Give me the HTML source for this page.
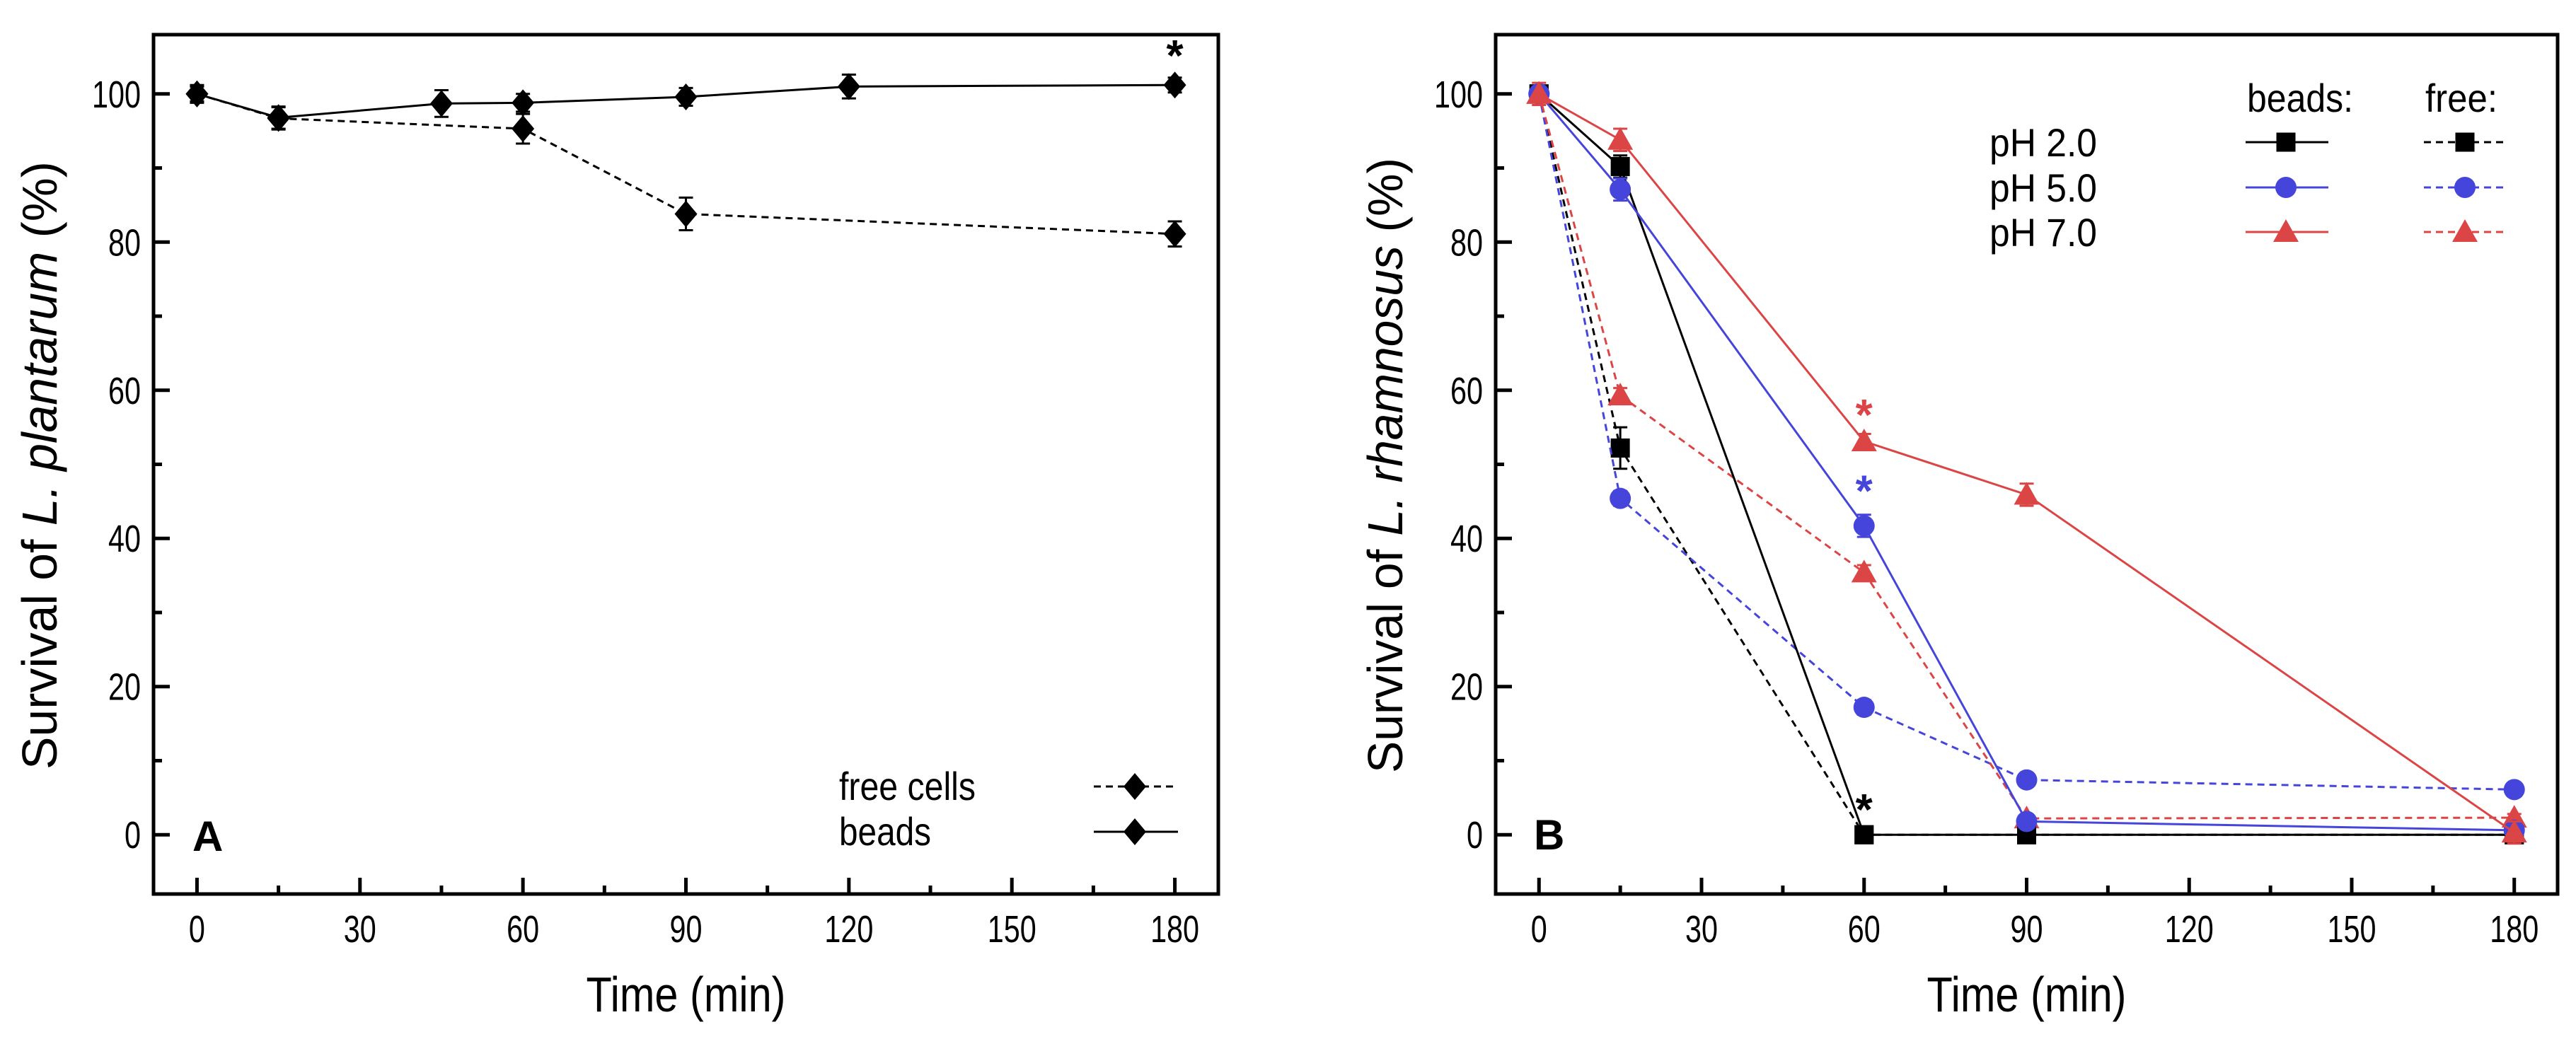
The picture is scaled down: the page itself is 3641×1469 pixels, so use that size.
<!DOCTYPE html>
<html><head><meta charset="utf-8"><style>
html,body{margin:0;padding:0;background:#fff}
svg{display:block}
text{font-family:"Liberation Sans",Arial,sans-serif;fill:#000}
</style></head><body>
<svg id="chart" width="3641" height="1469" viewBox="0 0 3641 1469" xmlns="http://www.w3.org/2000/svg"></svg>
<script>
const timesA = [0, 15, 45, 60, 90, 120, 180];
const beadsA = [100, 96.8, 98.7, 98.8, 99.6, 101, 101.2];
const beadsAErr = [1.2, 1.5, 1.8, 1.2, 1.2, 1.6, 1.0];
const timesAFree = [0, 15, 60, 90, 180];
const freeA = [100, 96.7, 95.3, 83.8, 81.1];
const freeAErr = [1.0, 1.5, 2.0, 2.2, 1.7];
const timesB = [0, 15, 60, 90, 180];
const beadsPH2 = [100, 90.2, 0, 0, 0];
const freePH2 = [100, 52.2, 0, 0, 0];
const beadsPH5 = [100, 87.1, 41.7, 1.8, 0.6];
const freePH5 = [100, 45.4, 17.2, 7.4, 6.1];
const beadsPH7 = [100, 93.8, 53.1, 45.9, 0.3];
const freePH7 = [100, 59.3, 35.4, 2.2, 2.3];
const errBeadsPH2 = [1, 1.5, 0.5, 0.5, 0.5];
const errFreePH2 = [1, 2.8, 0.5, 0.5, 0.5];
const errBeadsPH5 = [1, 1.5, 1.5, 0.5, 0.5];
const errFreePH5 = [1, 1.0, 1.0, 0.8, 0.8];
const errBeadsPH7 = [1.5, 1.5, 1.0, 1.5, 1.5];
const errFreePH7 = [1, 1.0, 1.0, 0.5, 0.5];
const xTicks = [0, 30, 60, 90, 120, 150, 180];
const yTicks = [0, 20, 40, 60, 80, 100];

const NS = "http://www.w3.org/2000/svg";
const svg = document.getElementById('chart');
function el(tag, attrs, parent, txt) {
  const e = document.createElementNS(NS, tag);
  for (const k in attrs) e.setAttribute(k, attrs[k]);
  if (txt !== undefined) e.textContent = txt;
  (parent || svg).appendChild(e);
  return e;
}
function fit(e, len) {
  e.setAttribute('textLength', len);
  e.setAttribute('lengthAdjust', 'spacingAndGlyphs');
  return e;
}
const BLUE = "#4545dc", RED = "#dc4545";

function makePanel(left, right, name) {
  const top = 49, bottom = 1264;
  const xmin = -8, xmax = 188, ymin = -8, ymax = 108;
  const sx = v => left + (v - xmin) / (xmax - xmin) * (right - left);
  const sy = v => bottom - (v - ymin) / (ymax - ymin) * (bottom - top);
  const g = el('g', {});
  
  
  const frame = el('rect', {x: left, y: top, width: right - left, height: bottom - top, fill: 'none', stroke: '#000', 'stroke-width': 5}, g);
  
  
  for (let v = 0; v <= 180; v += 15) {
    const major = v % 30 === 0;
    const t = el('line', {x1: sx(v), x2: sx(v), y1: bottom, y2: bottom - (major ? 23 : 12), stroke: '#000', 'stroke-width': 5}, g);
    
    
  }
  xTicks.forEach(v => {
    const t = el('text', {x: sx(v), y: 1332, 'font-size': 54, 'text-anchor': 'middle'}, g, String(v));
    fit(t, String(v).length * 23);
    
    
  });
  for (let v = 0; v <= 100; v += 10) {
    const major = v % 20 === 0;
    const t = el('line', {x1: left, x2: left + (major ? 23 : 12), y1: sy(v), y2: sy(v), stroke: '#000', 'stroke-width': 5}, g);
    
    
  }
  yTicks.forEach(v => {
    const t = el('text', {x: left - 18, y: sy(v) + 19, 'font-size': 54, 'text-anchor': 'end'}, g, String(v));
    fit(t, String(v).length * 23);
    
    
  });
  const xt = el('text', {x: (left + right) / 2, y: 1430, 'font-size': 70, 'text-anchor': 'middle'}, g, 'Time (min)');
  fit(xt, 282);
  
  
  return {g, sx, sy, left, right, top, bottom};
}

function marker(g, type, x, y, color) {
  let m;
  if (type === 'diamond') m = el('polygon', {points: `${x},${y-19} ${x+16},${y} ${x},${y+19} ${x-16},${y}`, fill: color}, g);
  else if (type === 'square') m = el('rect', {x: x-13.5, y: y-13.5, width: 27, height: 27, fill: color}, g);
  else if (type === 'circle') m = el('ellipse', {cx: x, cy: y, rx: 15, ry: 15, fill: color}, g);
  else m = el('polygon', {points: `${x},${y-18} ${x+18},${y+14} ${x-18},${y+14}`, fill: color}, g);
  
  
  return m;
}

function series(P, xs, ys, errs, type, color, dashed, name) {
  const g = el('g', {}, P.g);
  
  
  const pts = xs.map((x, i) => P.sx(x) + ',' + P.sy(ys[i])).join(' ');
  const l = el('polyline', {points: pts, fill: 'none', stroke: color, 'stroke-width': 3, 'stroke-dasharray': dashed ? '10,7' : 'none'}, g);
  
  
  xs.forEach((x, i) => {
    const cx = P.sx(x), y1 = P.sy(ys[i] + errs[i]), y2 = P.sy(ys[i] - errs[i]);
    const e = el('path', {d: `M${cx},${y1}V${y2}M${cx-10},${y1}H${cx+10}M${cx-10},${y2}H${cx+10}`, stroke: color, 'stroke-width': 3, fill: 'none'}, g);
    
    
  });
  xs.forEach((x, i) => marker(g, type, P.sx(x), P.sy(ys[i]), color));
}

function star(P, x, yv, dy, color) {
  const s = el('text', {x: P.sx(x), y: P.sy(yv) - dy, 'font-size': 62, 'font-weight': 'bold', 'text-anchor': 'middle', style: 'fill:' + color}, P.g, '*');
  
  
}

/* Panel A */
const A = makePanel(217, 1722, 'panel-a');
series(A, timesAFree, freeA, freeAErr, 'diamond', '#000', true, 'free-cells-series');
series(A, timesA, beadsA, beadsAErr, 'diamond', '#000', false, 'beads-series');
star(A, 180, 101.2, 20, '#000');
const ya = el('text', {transform: 'translate(80,658) rotate(-90)', 'font-size': 70, 'text-anchor': 'middle'}, A.g);
fit(ya, 860);


el('tspan', {}, ya, 'Survival of ');
el('tspan', {'font-style': 'italic'}, ya, 'L. plantarum');
el('tspan', {}, ya, ' (%)');
const la = el('text', {x: 272, y: 1203, 'font-size': 60, 'font-weight': 'bold'}, A.g, 'A');


[['free cells', 1112, true, 193], ['beads', 1176, false, 130]].forEach(([t, y, d, w]) => {
  const lg = el('g', {}, A.g);
  
  
  fit(el('text', {x: 1186, y: y + 19, 'font-size': 56}, lg, t), w);
  el('line', {x1: 1546, x2: 1665, y1: y, y2: y, stroke: '#000', 'stroke-width': 3, 'stroke-dasharray': d ? '10,7' : 'none'}, lg);
  marker(lg, 'diamond', 1604, y, '#000');
});

/* Panel B */
const B = makePanel(2114, 3615, 'panel-b');
series(B, timesB, freePH2, errFreePH2, 'square', '#000', true, 'free-ph2-series');
series(B, timesB, freePH5, errFreePH5, 'circle', BLUE, true, 'free-ph5-series');
series(B, timesB, freePH7, errFreePH7, 'triangle', RED, true, 'free-ph7-series');
series(B, timesB, beadsPH2, errBeadsPH2, 'square', '#000', false, 'beads-ph2-series');
series(B, timesB, beadsPH5, errBeadsPH5, 'circle', BLUE, false, 'beads-ph5-series');
series(B, timesB, beadsPH7, errBeadsPH7, 'triangle', RED, false, 'beads-ph7-series');
star(B, 60, beadsPH7[2], 16, RED);
star(B, 60, beadsPH5[2], 28, BLUE);
star(B, 60, beadsPH2[2], 14, '#000');
const yb = el('text', {transform: 'translate(1982,658) rotate(-90)', 'font-size': 70, 'text-anchor': 'middle'}, B.g);
fit(yb, 870);


el('tspan', {}, yb, 'Survival of ');
el('tspan', {'font-style': 'italic'}, yb, 'L. rhamnosus');
el('tspan', {}, yb, ' (%)');
const lb = el('text', {x: 2168, y: 1201, 'font-size': 60, 'font-weight': 'bold'}, B.g, 'B');


const h1 = fit(el('text', {x: 3176, y: 158, 'font-size': 56}, B.g, 'beads:'), 150);


const h2 = fit(el('text', {x: 3428, y: 158, 'font-size': 56}, B.g, 'free:'), 102);


[['pH 2.0', 201, 'square', '#000'], ['pH 5.0', 265, 'circle', BLUE], ['pH 7.0', 328, 'triangle', RED]].forEach(([t, y, m, c]) => {
  const lg = el('g', {}, B.g);
  
  
  fit(el('text', {x: 2812, y: y + 20, 'font-size': 56}, lg, t), 152);
  el('line', {x1: 3174, x2: 3291, y1: y, y2: y, stroke: c, 'stroke-width': 3}, lg);
  marker(lg, m, 3231, y, c);
  el('line', {x1: 3426, x2: 3543, y1: y, y2: y, stroke: c, 'stroke-width': 3, 'stroke-dasharray': '10,7'}, lg);
  marker(lg, m, 3484, y, c);
});
</script>
</body></html>
